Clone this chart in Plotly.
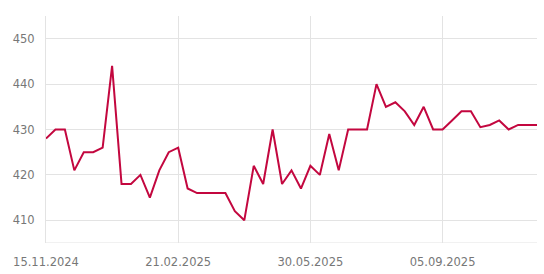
import plotly.graph_objects as go
import pandas as pd

start_date = "2024-11-15"
values = [428, 430, 430, 421, 425, 425, 426, 444, 418, 418,
          420, 415, 421, 425, 426, 417, 416, 416, 416, 416,
          412, 410, 422, 418, 430, 418, 421, 417, 422, 420,
          429, 421, 430, 430, 430, 440, 435, 436, 434, 431,
          435, 430, 430, 432, 434, 434, 430.5, 431, 432, 430,
          431, 431, 431]
dates = pd.date_range(start_date, periods=len(values), freq="7D")

tick_dates = ["2024-11-15", "2025-02-21", "2025-05-30", "2025-09-05"]
tick_labels = ["15.11.2024", "21.02.2025", "30.05.2025", "05.09.2025"]
y_ticks = [410, 420, 430, 440, 450]

fig = go.Figure()
fig.add_trace(go.Scatter(x=dates, y=values, mode="lines",
                         line=dict(color="#c3073f", width=2),
                         hoverinfo="skip"))

font = dict(family="DejaVu Sans", size=11.5, color="#777777")
fig.update_layout(
    width=544, height=274,
    margin=dict(l=46, r=7, t=16, b=31),
    paper_bgcolor="white", plot_bgcolor="white",
    showlegend=False,
    font=font,
)
fig.update_xaxes(
    range=[dates[0], dates[-1]],
    tickvals=tick_dates, ticktext=tick_labels,
    showgrid=True, gridcolor="#e3e3e3", gridwidth=1,
    showline=False, zeroline=False, automargin=False,
    ticks="", tickfont=font, ticklabelstandoff=10,
)
fig.update_yaxes(
    range=[405, 455],
    tickvals=y_ticks, automargin=False,
    showgrid=True, gridcolor="#e3e3e3", gridwidth=1,
    showline=True, linecolor="#e3e3e3", linewidth=1, mirror=False,
    zeroline=False, ticks="", tickfont=font, ticklabelstandoff=8,
)
fig.add_shape(type="line", xref="paper", yref="y", x0=0, x1=1, y0=405, y1=405,
              line=dict(color="#e3e3e3", width=1), layer="below")

fig.write_html("out.html")
